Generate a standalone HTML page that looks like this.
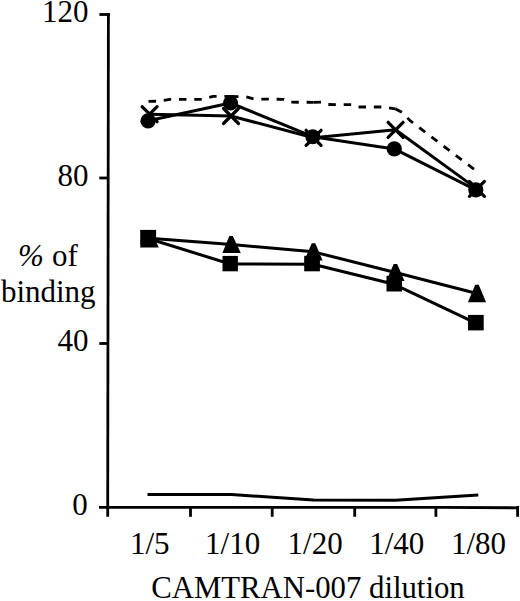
<!DOCTYPE html>
<html><head><meta charset="utf-8"><style>
html,body{margin:0;padding:0;background:#fff;width:520px;height:601px;overflow:hidden}
svg{display:block}
text{font-family:"Liberation Serif",serif;font-size:31px;fill:#000}
</style></head><body>
<svg width="520" height="601" viewBox="0 0 520 601">
<!-- axes -->
<g stroke="#000" stroke-width="2.8" fill="none" stroke-linecap="butt">
<path d="M108.4 13.2 L107.7 516.8"/>
<path d="M99.4 14.5 H109.8"/>
<path d="M99.3 178 H108.2"/>
<path d="M99.3 343.5 H108"/>
<path d="M99 507.3 L440 507.3 L519 507.8"/>
<path d="M190.5 507.3 V516.8"/>
<path d="M272.2 507.3 V516.8"/>
<path d="M354.7 507.3 V516.8"/>
<path d="M435.9 507.3 V516.8"/>
<path d="M517.6 506 V516.8"/>
</g>
<!-- data lines -->
<g stroke="#000" stroke-width="3" fill="none" stroke-linejoin="round" stroke-linecap="round">
<!-- near zero -->
<polyline stroke-linecap="butt" points="147.5,494.4 231.4,494.5 313.5,500.1 395.3,500.3 478.3,495"/>
<!-- squares -->
<polyline points="148.2,238.5 230.2,264 313,264.3 394.2,284.3 475.9,323.1"/>
<!-- triangles -->
<polyline points="149.6,238.3 231.6,244.5 313.5,251.85 395.4,272.45 477,293.5"/>
<!-- circles -->
<polyline points="148.1,120.8 230.5,103 312.8,136.7 394.3,148.9 475.8,189.8"/>
<!-- X -->
<polyline points="149.6,114.2 231,116 313.6,137.8 395.6,129.8 476.9,188.9"/>
</g>
<!-- dashed -->
<g stroke="#000" stroke-width="2.8" fill="none" stroke-dasharray="7.5 7.8" stroke-linecap="butt">
<polyline points="148.5,101.4 158,101.2 170,99.3 203,99.3 213,96.3 231,96.3"/>
<polyline points="231,96.3 246,96.9 254,99 284,99.3 290.5,102.2 313.5,102.3"/>
<polyline points="313.5,102.3 321,102.2 327,104.5 352,104.6 358,107 382,107 395.3,108.8"/>
<polyline points="395.3,108.8 398,110.2 402,112.4 410,120.5 476.5,171"/>
</g>
<!-- markers: triangles -->
<g fill="#000">
<path d="M147.6 230.5 L151.1 230.5 L158.8 247.6 L139.9 247.6 Z"/>
<path d="M229.3 236 L232.8 236 L240.8 253 L222.4 253 Z"/>
<path d="M311.75 243.3 L315.25 243.3 L322.60 260.4 L304.40 260.4 Z"/>
<path d="M393.65 264 L397.15 264 L404.50 280.9 L386.30 280.9 Z"/>
<path d="M475.25 284.75 L478.75 284.75 L486.10 302.2 L467.90 302.2 Z"/>
</g>
<!-- squares -->
<g fill="#000">
<rect x="140.2" y="229.9" width="15.9" height="15.7"/>
<rect x="222.5" y="255.9" width="15.4" height="15.4"/>
<rect x="304.2" y="255.8" width="15.7" height="15.5"/>
<rect x="386.5" y="275.8" width="15.5" height="15.7"/>
<rect x="468" y="314.9" width="15.7" height="15.5"/>
</g>
<!-- X markers -->
<g stroke="#000" stroke-width="3.2" stroke-linecap="round" fill="none">
<path d="M142.1 106.7 L157.1 121.7 M157.1 106.7 L142.1 121.7"/>
<path d="M223.5 108.5 L238.5 123.5 M238.5 108.5 L223.5 123.5"/>
<path d="M306.1 130.3 L321.1 145.3 M321.1 130.3 L306.1 145.3"/>
<path d="M388.1 122.3 L403.1 137.3 M403.1 122.3 L388.1 137.3"/>
<path d="M469.4 181.4 L484.4 196.4 M484.4 181.4 L469.4 196.4"/>
</g>
<!-- circles -->
<g fill="#000">
<circle cx="148.1" cy="120.8" r="7.6"/>
<circle cx="230.5" cy="103" r="7.6"/>
<circle cx="312.8" cy="136.7" r="7.5"/>
<circle cx="394.3" cy="148.9" r="7.6"/>
<circle cx="475.8" cy="189.8" r="7.6"/>
</g>
<!-- labels -->
<text x="88.4" y="22.4" text-anchor="end">120</text>
<text x="88.4" y="185.6" text-anchor="end">80</text>
<text x="88.4" y="351.3" text-anchor="end">40</text>
<text x="87.8" y="514.5" text-anchor="end">0</text>
<text x="18" y="265.6" font-style="italic">%</text>
<text x="51.9" y="265.5">of</text>
<text x="0.9" y="301.7">binding</text>
<text x="149.8" y="553.8" text-anchor="middle">1/5</text>
<text x="232.6" y="553.8" text-anchor="middle">1/10</text>
<text x="315.1" y="553.8" text-anchor="middle">1/20</text>
<text x="396.7" y="553.8" text-anchor="middle">1/40</text>
<text x="478.5" y="553.8" text-anchor="middle">1/80</text>
<text x="151.2" y="598.1" style="font-size:30.75px">CAMTRAN-007 dilution</text>
</svg>
</body></html>
